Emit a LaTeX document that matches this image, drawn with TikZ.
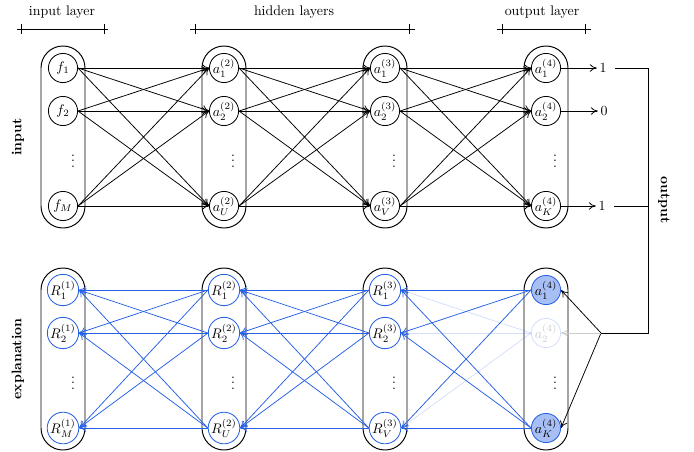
\documentclass[tikz,border=0pt]{standalone}
\usetikzlibrary{arrows.meta}
\definecolor{relblue}{RGB}{38,96,230}
\begin{document}
\begin{tikzpicture}[x=0.72pt,y=-0.72pt,
  neuron/.style={circle,draw,line width=0.6pt,minimum size=21pt,inner sep=0pt},
  relnode/.style={neuron,draw=relblue},
  hot/.style={relnode,fill=relblue!40},
  faded/.style={opacity=0.2},
  layerbox/.style={draw,line width=0.7pt,rounded corners=15.8pt},
  tip/.style={-{To[length=5pt,width=5.5pt]}},
  fwd/.style={tip,line width=0.55pt},
  bwd/.style={tip,line width=0.55pt,draw=relblue},
  wire/.style={line width=0.6pt},
  outval/.style={inner sep=1.8pt},
  dots/.style={inner sep=0pt},
  sidelabel/.style={font=\bfseries},
  bar/.style={line width=0.6pt}
]
\useasboundingbox (0,0) rectangle (694,451);

% ---------- forward network ----------
\node[neuron] (f1) at (63,68)  {$f_1$};
\node[neuron] (f2) at (63,111) {$f_2$};
\node[neuron] (fM) at (63,206) {$f_M$};
\node[dots] (fd) at (73,157) {$\vdots$};

\node[neuron] (a21) at (224,68)  {$a_1^{(2)}$};
\node[neuron] (a22) at (224,111) {$a_2^{(2)}$};
\node[neuron] (a2U) at (224,206) {$a_U^{(2)}$};
\node[dots] (a2d) at (233,157) {$\vdots$};

\node[neuron] (a31) at (385,68)  {$a_1^{(3)}$};
\node[neuron] (a32) at (385,111) {$a_2^{(3)}$};
\node[neuron] (a3V) at (385,206) {$a_V^{(3)}$};
\node[dots] (a3d) at (394,157) {$\vdots$};

\node[neuron] (a41) at (546,68)  {$a_1^{(4)}$};
\node[neuron] (a42) at (546,111) {$a_2^{(4)}$};
\node[neuron] (a4K) at (546,206) {$a_K^{(4)}$};
\node[dots] (a4d) at (555,157) {$\vdots$};

\foreach \top/\bot in {f1/fM,a21/a2U,a31/a3V,a41/a4K}
  \draw[layerbox] ([shift={(-22,-22)}]\top.center) rectangle ([shift={(22,22)}]\bot.center);

\foreach \s in {f1,f2,fM} \foreach \t in {a21,a22,a2U} \draw[fwd] (\s.east) -- (\t.west);
\foreach \s in {a21,a22,a2U} \foreach \t in {a31,a32,a3V} \draw[fwd] (\s.east) -- (\t.west);
\foreach \s in {a31,a32,a3V} \foreach \t in {a41,a42,a4K} \draw[fwd] (\s.east) -- (\t.west);

% ---------- explanation network ----------
\node[relnode] (r11) at (63,290) {$R_1^{(1)}$};
\node[relnode] (r12) at (63,333) {$R_2^{(1)}$};
\node[relnode] (r1M) at (63,428) {$R_M^{(1)}$};
\node[dots] (r1d) at (73,379) {$\vdots$};

\node[relnode] (r21) at (224,290) {$R_1^{(2)}$};
\node[relnode] (r22) at (224,333) {$R_2^{(2)}$};
\node[relnode] (r2U) at (224,428) {$R_U^{(2)}$};
\node[dots] (r2d) at (233,379) {$\vdots$};

\node[relnode] (r31) at (385,290) {$R_1^{(3)}$};
\node[relnode] (r32) at (385,333) {$R_2^{(3)}$};
\node[relnode] (r3V) at (385,428) {$R_V^{(3)}$};
\node[dots] (r3d) at (394,379) {$\vdots$};

\node[hot] (e41) at (546,290) {$a_1^{(4)}$};
\node[relnode,faded] (e42) at (546,333) {$a_2^{(4)}$};
\node[hot] (e4K) at (546,428) {$a_K^{(4)}$};
\node[dots] (e4d) at (555,379) {$\vdots$};

\foreach \top/\bot in {r11/r1M,r21/r2U,r31/r3V,e41/e4K}
  \draw[layerbox] ([shift={(-22,-22)}]\top.center) rectangle ([shift={(22,22)}]\bot.center);

\foreach \s in {r21,r22,r2U} \foreach \t in {r11,r12,r1M} \draw[bwd] (\s.west) -- (\t.east);
\foreach \s in {r31,r32,r3V} \foreach \t in {r21,r22,r2U} \draw[bwd] (\s.west) -- (\t.east);
\foreach \s in {e41,e4K} \foreach \t in {r31,r32,r3V} \draw[bwd] (\s.west) -- (\t.east);
\foreach \t in {r31,r32,r3V} \draw[bwd,faded] (e42.west) -- (\t.east);

% ---------- outputs fed back into the explanation ----------
\node[outval] (o1) at (603,68)  {1};
\node[outval] (o2) at (604,111) {0};
\node[outval] (oK) at (602,206) {1};
\draw[fwd] (a41.east) -- (o1.west);
\draw[fwd] (a42.east) -- (o2.west);
\draw[fwd] (a4K.east) -- (oK.west);

\coordinate (c1) at (648,68);
\coordinate (cK) at (648,206);
\coordinate (jn) at (601,333);
\draw[wire,shorten <=4pt] (o1.east) -- (c1) |- (jn);
\draw[wire,shorten <=4pt] (oK.east) -- (cK);
\draw[fwd] (jn) -- (e41.east);
\draw[fwd] (jn) -- (e4K.east);
\draw[fwd,black!20] (jn) -- (e42.east);

% ---------- labels ----------
\node[sidelabel,rotate=90]  (lin)  at (18,137) {input};
\node[sidelabel,rotate=90]  (lex)  at (18,359) {explanation};
\node[sidelabel,rotate=-90] (lout) at (664,200) {output};

\node (tin)  at (62,12)  {input layer};
\node (thid) at (294,12) {hidden layers};
\node (tout) at (542,12) {output layer};

\draw[bar] (17,29) -- (108,29);
\draw[bar] (21,24) -- (21,34);
\draw[bar] (104,24) -- (104,34);
\draw[bar] (190,29) -- (415,29);
\draw[bar] (195,24) -- (195,34);
\draw[bar] (409,24) -- (409,34);
\draw[bar] (497,29) -- (591,29);
\draw[bar] (502,24) -- (502,34);
\draw[bar] (585,24) -- (585,34);
\end{tikzpicture}
\end{document}
